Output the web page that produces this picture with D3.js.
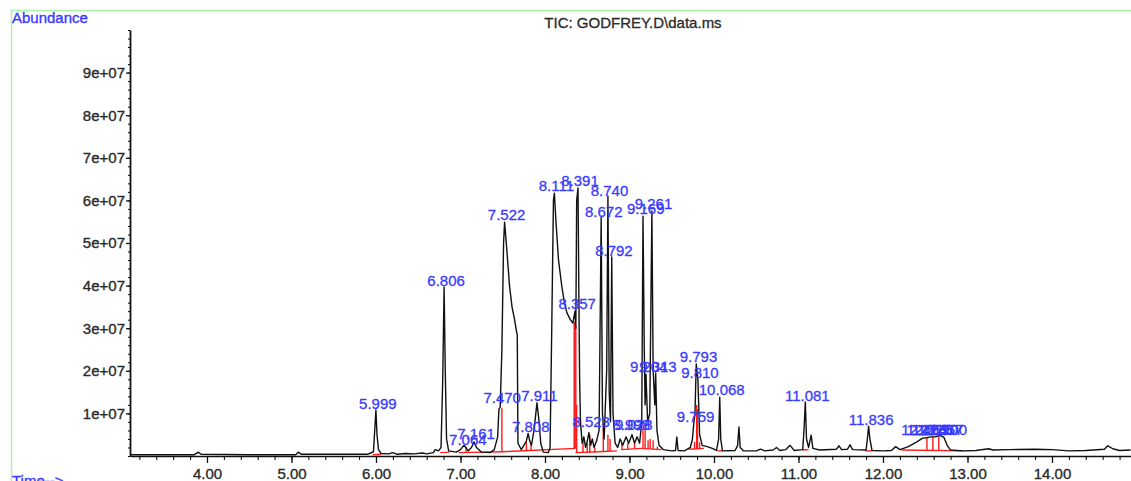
<!DOCTYPE html>
<html>
<head>
<meta charset="utf-8">
<script src="https://cdn.jsdelivr.net/npm/d3@7"></script>
<style>
  body { margin: 0; background: #fff; }
  text { font-family: "Liberation Sans", Arial, sans-serif; }
</style>
</head>
<body>
<div id="chart"></div>
<script>
// TIC trace: retention time (min) and abundance (x1e6)
var traceTime = [3.09, 3.85, 3.90, 3.93, 4.50, 5.05, 5.08, 5.12, 5.90, 5.97, 5.985, 5.999, 6.012, 6.03, 6.06,
  6.15, 6.20, 6.25, 6.35, 6.45, 6.55, 6.60, 6.68, 6.70, 6.74, 6.77, 6.79, 6.806, 6.82, 6.835, 6.86,
  6.95, 7.00, 7.04, 7.064, 7.09, 7.13, 7.161, 7.19, 7.25, 7.35, 7.40, 7.44, 7.455, 7.47, 7.49, 7.51,
  7.522, 7.55, 7.58, 7.61, 7.64, 7.665, 7.672, 7.68, 7.72, 7.75, 7.78, 7.80, 7.82, 7.84, 7.87, 7.905,
  7.93, 7.95, 7.98, 8.04, 8.06, 8.08, 8.10, 8.111, 8.13, 8.16, 8.20, 8.23, 8.26, 8.30, 8.33, 8.355,
  8.365, 8.375, 8.391, 8.40, 8.41, 8.42, 8.44, 8.46, 8.48, 8.50, 8.52, 8.54, 8.56, 8.58, 8.61, 8.64,
  8.665, 8.68, 8.70, 8.73, 8.745, 8.76, 8.775, 8.79, 8.805, 8.83, 8.86, 8.89, 8.92, 8.96, 8.99, 9.03,
  9.06, 9.09, 9.12, 9.145, 9.16, 9.175, 9.185, 9.195, 9.215, 9.24, 9.265, 9.28, 9.30, 9.31, 9.325, 9.35,
  9.40, 9.50, 9.545, 9.56, 9.575, 9.65, 9.72, 9.745, 9.76, 9.775, 9.79, 9.81, 9.83, 9.86, 9.92, 9.98,
  10.03, 10.055, 10.068, 10.08, 10.10, 10.25, 10.28, 10.295, 10.31, 10.35, 10.50, 10.55, 10.60, 10.70,
  10.74, 10.78, 10.85, 10.90, 10.95, 11.05, 11.065, 11.081, 11.095, 11.12, 11.15, 11.17, 11.25, 11.45,
  11.48, 11.51, 11.58, 11.61, 11.64, 11.80, 11.815, 11.83, 11.845, 11.87, 12.00, 12.10, 12.15, 12.20,
  12.30, 12.40, 12.47, 12.52, 12.57, 12.62, 12.68, 12.72, 12.76, 12.80, 12.95, 13.10, 13.25, 13.30,
  13.50, 13.80, 14.00, 14.20, 14.40, 14.62, 14.66, 14.72, 14.80, 14.93];
var traceAbund = [0.3, 0.3, 0.9, 0.4, 0.3, 0.3, 0.9, 0.4, 0.4, 1.0, 6, 10.8, 5, 1.5, 0.6,
  0.5, 0.8, 0.4, 0.6, 0.5, 0.7, 0.5, 0.8, 1.5, 1.2, 2, 18, 39.7, 20, 4, 1.2,
  0.9, 1.5, 2.5, 2.0, 1.2, 2.0, 3.3, 2.0, 0.9, 0.8, 1.5, 4.5, 11.0, 11.5, 25, 50,
  54.9, 48, 40, 35, 32, 29, 28.5, 3, 1.5, 2.5, 3.5, 5.3, 3.5, 2.5, 6, 12.5,
  8, 3, 0.9, 0.8, 2, 30, 60, 61.7, 55, 46, 39.7, 36, 33.6, 32, 31.2, 34,
  30, 60, 62.9, 40, 18, 8, 3, 4.5, 2, 3.5, 5.5, 2.5, 4, 2, 3.5, 6,
  56, 10, 4, 20, 61, 15, 8, 46.7, 10, 3, 2, 4, 2.5, 4.5, 3, 5,
  3, 4.5, 3, 8, 56.3, 25, 12, 19.2, 8, 10, 57.5, 20, 12, 19.5, 6, 2.5,
  1.5, 1.2, 1.3, 4.5, 1.3, 1.2, 2, 4, 7.5, 10, 21.6, 17.8, 5, 2.5, 2.2, 1.8,
  1.3, 4, 13.8, 4, 1.2, 1.3, 2.5, 6.8, 2, 1.2, 1.2, 1.6, 1.2, 1.4,
  2, 1.3, 1.5, 2.5, 1.3, 1.5, 6, 12.7, 4, 2, 4.9, 1.8, 1.4, 1.6,
  2.4, 1.5, 1.6, 2.6, 1.5, 1.4, 4, 7, 4, 1.3, 1.2, 1.3, 2.2, 1.5,
  2.2, 3.3, 4.2, 4.3, 4.5, 4.5, 4.8, 4.4, 2.5, 1.4, 1.2, 1.3, 1.7, 1.4,
  1.5, 1.6, 1.5, 1.2, 1.3, 1.6, 2.4, 1.7, 1.3, 1.4];

// peak labels (retention time text) and the abundance (x1e6) they sit at
var peakLabels = ["5.999", "6.806", "7.064", "7.161", "7.470", "7.522", "7.808", "7.911", "8.111", "8.391",
  "8.357", "8.523", "8.672", "8.740", "8.792", "8.998", "9.028", "9.169", "9.261", "9.204", "9.313",
  "9.759", "9.793", "9.810", "10.068", "11.081", "11.836", "12.464", "12.526", "12.590", "12.657", "12.700"];
var peakLabelAbund = [10.6, 39.4, 2.1, 3.5, 12.0, 54.9, 5.2, 12.4, 61.7, 62.9,
  34.0, 6.3, 55.6, 60.6, 46.5, 5.6, 5.6, 56.3, 57.5, 19.2, 19.2,
  7.5, 21.6, 17.8, 13.8, 12.4, 6.8, 4.5, 4.5, 4.5, 4.5, 4.5];

// integration baselines (red): start/end time and abundance (x1e6)
var baseStart = [5.96, 6.76, 6.98, 7.50, 8.36, 8.63, 8.90, 9.14, 9.70, 10.04, 11.05, 11.79, 12.22];
var baseStartAbund = [0.3, 0.8, 0.8, 1.0, 0.8, 1.0, 1.5, 1.8, 1.6, 1.2, 1.4, 1.2, 1.4];
var baseEnd = [6.06, 6.87, 7.50, 8.36, 8.63, 8.85, 9.14, 9.38, 9.88, 10.10, 11.12, 11.87, 12.95];
var baseEndAbund = [0.4, 0.9, 1.0, 1.8, 1.0, 1.2, 1.8, 1.5, 1.8, 1.2, 1.5, 1.2, 1.2];

// integration drop lines (red): time, bottom and top abundance (x1e6)
var dropTime = [7.065, 7.49, 7.78, 7.835, 8.345, 8.355, 8.365, 8.375, 8.45, 8.50, 8.53, 8.59, 8.69, 8.745,
  8.77, 8.91, 8.98, 9.06, 9.16, 9.185, 9.22, 9.245, 9.28, 9.33, 9.77, 9.795, 9.805, 9.83, 12.52, 12.59, 12.66];
var dropLow = [0.9, 1.0, 1.4, 1.4, 1.8, 1.8, 1.8, 0.8, 0.8, 0.8, 0.8, 0.9, 1.1, 1.1,
  1.2, 1.6, 1.6, 1.7, 1.8, 1.8, 1.7, 1.7, 1.6, 1.5, 1.7, 1.7, 1.7, 1.7, 1.3, 1.3, 1.3];
var dropHigh = [2.0, 11.3, 3.3, 3.0, 31.3, 31.6, 30.5, 12, 3.5, 3.0, 5.0, 2.0, 6.5, 5.0,
  4.0, 3.0, 3.0, 3.0, 6.0, 7.7, 3.7, 4.0, 3.7, 2.2, 3.3, 12, 11, 3.2, 4.3, 4.5, 4.5];

var xMajor = [4, 5, 6, 7, 8, 9, 10, 11, 12, 13, 14];
var yMajor = [1e7, 2e7, 3e7, 4e7, 5e7, 6e7, 7e7, 8e7, 9e7];

var width = 1131, height = 481;
var labelBlue = '#3a3aff';
var tickGrey = '#2a2a2a';

var x = d3.scaleLinear().domain([3.089, 14.935]).range([130, 1131]);
var y = d3.scaleLinear().domain([0, 1e8]).range([456, 30]);

var svg = d3.select('#chart')
  .append('svg')
    .attr('width', width)
    .attr('height', height);

// pale green frame
svg.append('rect')
  .attr('x', 11.5).attr('y', 10.5)
  .attr('width', 1200).attr('height', 600)
  .attr('fill', 'none')
  .attr('stroke', '#a6f5a6')
  .attr('stroke-width', 1.5);

svg.append('text')
  .attr('x', 12).attr('y', 23)
  .attr('fill', labelBlue)
  .attr('stroke', labelBlue).attr('stroke-width', 0.35)
  .style('font-size', '15px')
  .text('Abundance');

svg.append('text')
  .attr('x', 12).attr('y', 486)
  .attr('fill', labelBlue)
  .attr('stroke', labelBlue).attr('stroke-width', 0.35)
  .style('font-size', '15px')
  .text('Time-->');

svg.append('text')
  .attr('x', 633).attr('y', 28)
  .attr('text-anchor', 'middle')
  .attr('fill', tickGrey)
  .attr('stroke', tickGrey).attr('stroke-width', 0.3)
  .style('font-size', '15px')
  .text('TIC: GODFREY.D\\data.ms');

// axes
var axisColor = '#111';

svg.append('g')
  .attr('transform', 'translate(0,456)')
  .call(d3.axisBottom(x).tickValues(d3.range(3.2, 14.9, 0.2)).tickSize(4).tickSizeOuter(0).tickFormat(''))
  .call(g => g.select('.domain').attr('stroke', axisColor).attr('stroke-width', 1.5));

var xAx = svg.append('g')
  .attr('transform', 'translate(0,456)')
  .call(d3.axisBottom(x).tickValues(xMajor).tickSize(7).tickSizeOuter(0).tickFormat(d3.format('.2f')));
xAx.select('.domain').remove();
xAx.selectAll('line').attr('stroke', axisColor).attr('stroke-width', 1.3);
xAx.selectAll('text')
  .attr('y', 12)
  .attr('fill', tickGrey)
  .attr('stroke', tickGrey).attr('stroke-width', 0.35)
  .style('font-size', '15px')
  .style('font-family', '"Liberation Sans", Arial, sans-serif');

svg.append('g')
  .attr('transform', 'translate(130,0)')
  .call(d3.axisLeft(y).tickValues(d3.range(0, 1e8 + 1, 2e6)).tickSize(2).tickSizeOuter(0).tickFormat(''))
  .call(g => g.select('.domain').attr('stroke', axisColor).attr('stroke-width', 1.8));

var yAx = svg.append('g')
  .attr('transform', 'translate(130,0)')
  .call(d3.axisLeft(y).tickValues(yMajor).tickSize(4).tickSizeOuter(0)
    .tickFormat(function(d) { return (d / 1e7) + 'e+07'; }));
yAx.select('.domain').remove();
yAx.selectAll('line').attr('stroke', axisColor).attr('stroke-width', 1.3);
yAx.selectAll('text')
  .attr('x', -5)
  .attr('fill', tickGrey)
  .attr('stroke', tickGrey).attr('stroke-width', 0.35)
  .style('font-size', '15px')
  .style('font-family', '"Liberation Sans", Arial, sans-serif');

// integration baselines and drop lines
var integ = svg.append('g').attr('stroke', '#ff1a1a').attr('stroke-width', 1.4);

integ.selectAll('line.base')
  .data(baseStart).enter()
  .append('line')
    .attr('class', 'base')
    .attr('x1', function(d, i) { return x(d); })
    .attr('y1', function(d, i) { return y(baseStartAbund[i] * 1e6); })
    .attr('x2', function(d, i) { return x(baseEnd[i]); })
    .attr('y2', function(d, i) { return y(baseEndAbund[i] * 1e6); });

integ.selectAll('line.drop')
  .data(dropTime).enter()
  .append('line')
    .attr('class', 'drop')
    .attr('x1', function(d) { return x(d); })
    .attr('x2', function(d) { return x(d); })
    .attr('y1', function(d, i) { return y(dropLow[i] * 1e6); })
    .attr('y2', function(d, i) { return y(dropHigh[i] * 1e6); });

// the trace
var trace = traceTime.map(function(t, i) { return [t, traceAbund[i] * 1e6]; });

svg.append('path')
  .datum(trace)
  .attr('fill', 'none')
  .attr('stroke', '#111')
  .attr('stroke-width', 1.4)
  .attr('stroke-linejoin', 'round')
  .attr('d', d3.line()
    .x(function(d) { return x(d[0]); })
    .y(function(d) { return y(d[1]); }));

// peak labels
svg.append('g').selectAll('text')
  .data(peakLabels).enter()
  .append('text')
    .attr('x', function(d) { return x(+d) + 2; })
    .attr('y', function(d, i) { return y(peakLabelAbund[i] * 1e6) - 2; })
    .attr('text-anchor', 'middle')
    .attr('fill', labelBlue)
    .attr('stroke', labelBlue).attr('stroke-width', 0.3)
    .style('font-size', '15px')
    .text(function(d) { return d; });
</script>
</body>
</html>
